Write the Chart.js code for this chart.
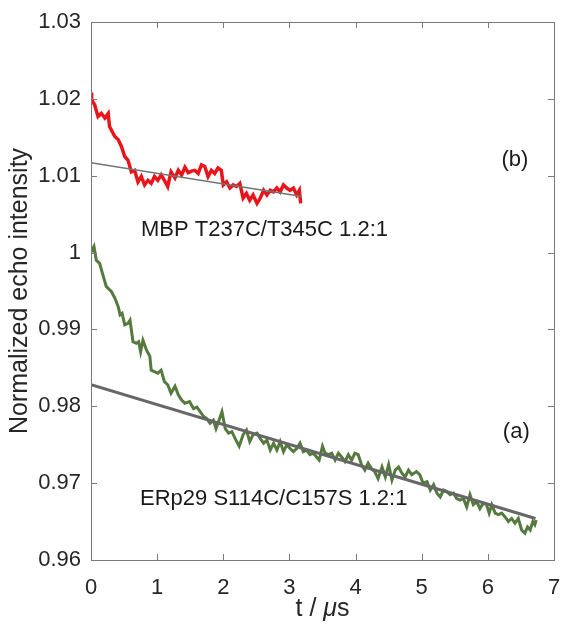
<!DOCTYPE html>
<html>
<head>
<meta charset="utf-8">
<script src="https://cdn.jsdelivr.net/npm/chart.js@4.4.1/dist/chart.umd.min.js"></script>
<style>
  html, body { margin: 0; padding: 0; background: #fff; }
  #wrap { width: 565px; height: 627px; }
</style>
</head>
<body>
<div id="wrap"><canvas id="c" width="565" height="627"></canvas></div>
<script>
// ---- data ----
const xTickLabels = ['0', '1', '2', '3', '4', '5', '6', '7'];
const yTickLabels = ['0.96', '0.97', '0.98', '0.99', '1', '1.01', '1.02', '1.03'];

// (b) MBP T237C/T345C 1.2:1 (red)
const redT = [0, 0.01, 0.056, 0.106, 0.156, 0.21, 0.26, 0.28, 0.36, 0.41,
  0.46, 0.51, 0.56, 0.61, 0.66, 0.71, 0.76, 0.81, 0.86, 0.91,
  0.96, 1.01, 1.06, 1.11, 1.16, 1.21, 1.27, 1.32, 1.37, 1.42,
  1.47, 1.52, 1.57, 1.62, 1.67, 1.72, 1.77, 1.82, 1.87, 1.92,
  1.97, 2.00, 2.05, 2.10, 2.15, 2.20, 2.25, 2.30, 2.35, 2.40,
  2.45, 2.51, 2.56, 2.61, 2.66, 2.71, 2.76, 2.81, 2.86, 2.91,
  2.96, 3.01, 3.06, 3.11, 3.15, 3.17];
const redV = [1.0208, 1.0199, 1.0192, 1.0177, 1.0181, 1.0175, 1.0181, 1.0164, 1.0151, 1.0147,
  1.0138, 1.0125, 1.0120, 1.0105, 1.0107, 1.0092, 1.0099, 1.0088, 1.0094, 1.0090,
  1.0099, 1.0094, 1.0101, 1.0094, 1.0086, 1.0105, 1.0097, 1.0107, 1.0101, 1.0111,
  1.0104, 1.0106, 1.0107, 1.0103, 1.0114, 1.0112, 1.0099, 1.0107, 1.0103, 1.0110,
  1.0107, 1.0088, 1.0092, 1.0084, 1.0088, 1.0086, 1.0090, 1.0071, 1.0077, 1.0068,
  1.0075, 1.0064, 1.0071, 1.0081, 1.0075, 1.0081, 1.0079, 1.0084, 1.0079, 1.0088,
  1.0084, 1.0081, 1.0084, 1.0075, 1.0081, 1.0064];
const redFitT = [0, 3.19];
const redFitV = [1.0117, 1.0073];

// (a) ERp29 S114C/C157S 1.2:1 (green)
const greenT = [0, 0.015, 0.045, 0.08, 0.13, 0.18, 0.23, 0.31, 0.36, 0.41,
  0.44, 0.47, 0.51, 0.56, 0.59, 0.635, 0.685, 0.72, 0.75, 0.785,
  0.84, 0.89, 0.91, 0.96, 1.01, 1.06, 1.11, 1.16, 1.21, 1.27,
  1.32, 1.37, 1.42, 1.49, 1.55, 1.60, 1.65, 1.70, 1.75, 1.80,
  1.85, 1.89, 1.92, 1.98, 2.03, 2.08, 2.13, 2.18, 2.24, 2.30,
  2.35, 2.40, 2.45, 2.51, 2.56, 2.61, 2.66, 2.71, 2.76, 2.81,
  2.86, 2.91, 2.96, 3.01, 3.06, 3.11, 3.16, 3.21, 3.26, 3.31,
  3.36, 3.41, 3.45, 3.50, 3.54, 3.59, 3.64, 3.69, 3.74, 3.79,
  3.84, 3.89, 3.94, 3.99, 4.04, 4.09, 4.14, 4.19, 4.24, 4.29,
  4.34, 4.40, 4.45, 4.50, 4.55, 4.60, 4.65, 4.70, 4.75, 4.80,
  4.85, 4.92, 4.97, 5.02, 5.08, 5.13, 5.18, 5.23, 5.28, 5.33,
  5.38, 5.43, 5.48, 5.53, 5.58, 5.63, 5.68, 5.73, 5.78, 5.83,
  5.88, 5.93, 5.98, 6.02, 6.06, 6.11, 6.16, 6.21, 6.26, 6.31,
  6.36, 6.41, 6.46, 6.51, 6.56, 6.60, 6.64, 6.68, 6.71, 6.73];
const greenV = [1.0002, 1.0003, 1.0008, 0.9990, 0.9986, 0.9971, 0.9956, 0.9949, 0.9941, 0.9930,
  0.9919, 0.9921, 0.9906, 0.9908, 0.9912, 0.9884, 0.9882, 0.9884, 0.9871, 0.9886,
  0.9873, 0.9865, 0.9847, 0.9845, 0.9843, 0.9847, 0.9832, 0.9828, 0.9817, 0.9826,
  0.9815, 0.9808, 0.9804, 0.9806, 0.9797, 0.9799, 0.9793, 0.9787, 0.9784, 0.9778,
  0.9782, 0.9771, 0.9778, 0.9793, 0.9771, 0.9765, 0.9767, 0.9758, 0.9748, 0.9763,
  0.9769, 0.9754, 0.9763, 0.9765, 0.9758, 0.9752, 0.9756, 0.9743, 0.9752, 0.9743,
  0.9754, 0.9741, 0.9750, 0.9745, 0.9741, 0.9745, 0.9752, 0.9741, 0.9743, 0.9737,
  0.9739, 0.9734, 0.9730, 0.9748, 0.9739, 0.9737, 0.9739, 0.9730, 0.9739, 0.9734,
  0.9728, 0.9737, 0.9730, 0.9739, 0.9737, 0.9724, 0.9717, 0.9726, 0.9719, 0.9715,
  0.9706, 0.9721, 0.9708, 0.9724, 0.9704, 0.9717, 0.9721, 0.9713, 0.9708, 0.9717,
  0.9711, 0.9715, 0.9711, 0.9700, 0.9702, 0.9691, 0.9698, 0.9687, 0.9682, 0.9691,
  0.9689, 0.9685, 0.9687, 0.9680, 0.9678, 0.9680, 0.9669, 0.9685, 0.9672, 0.9676,
  0.9667, 0.9674, 0.9672, 0.9661, 0.9672, 0.9661, 0.9659, 0.9661, 0.9656, 0.9650,
  0.9654, 0.9648, 0.9654, 0.9639, 0.9635, 0.9643, 0.9639, 0.9650, 0.9646, 0.9652];
const greenFitT = [0, 6.72];
const greenFitV = [0.9828, 0.9654];

// text labels (anchored in data coordinates)
const noteTexts = ['(b)', 'MBP T237C/T345C 1.2:1', '(a)', 'ERp29 S114C/C157S 1.2:1'];

// ---- styling / layout ----
const FONT = "'Liberation Sans', Arial, Helvetica, sans-serif";
const TXT = '#262626';
const noteAnchors = [
  { t: 6.41, v: 1.01205, align: 'center' },
  { t: 0.756, v: 1.00294, align: 'left' },
  { t: 6.43, v: 0.97666, align: 'center' },
  { t: 0.741, v: 0.96794, align: 'left' }
];

const pts = (xs, ys) => xs.map((x, i) => ({ x: x, y: ys[i] }));

const framePlugin = {
  id: 'frame',
  afterDraw(chart) {
    const { ctx, chartArea: a, scales: { x, y } } = chart;
    ctx.save();
    ctx.strokeStyle = '#7a7a7a';
    ctx.lineWidth = 1;
    ctx.strokeRect(Math.round(a.left) + 0.5, Math.round(a.top) + 0.5,
      Math.round(a.right - a.left), Math.round(a.bottom - a.top));
    ctx.beginPath();
    const L = 6;
    x.ticks.forEach(t => {
      const px = Math.round(x.getPixelForValue(t.value)) + 0.5;
      ctx.moveTo(px, a.bottom); ctx.lineTo(px, a.bottom - L);
      ctx.moveTo(px, a.top); ctx.lineTo(px, a.top + L);
    });
    y.ticks.forEach(t => {
      const py = Math.round(y.getPixelForValue(t.value)) + 0.5;
      ctx.moveTo(a.left, py); ctx.lineTo(a.left + L, py);
      ctx.moveTo(a.right, py); ctx.lineTo(a.right - L, py);
    });
    ctx.stroke();

    // annotations
    ctx.fillStyle = '#1a1a1a';
    ctx.font = '22px ' + FONT;
    ctx.textBaseline = 'middle';
    noteTexts.forEach((txt, i) => {
      const an = noteAnchors[i];
      ctx.textAlign = an.align;
      ctx.fillText(txt, x.getPixelForValue(an.t), y.getPixelForValue(an.v));
    });

    // x-axis title: "t / μs" with italic μ
    const parts = [['t / ', 'normal'], ['μ', 'italic'], ['s', 'normal']];
    let total = 0;
    parts.forEach(p => { ctx.font = p[1] + ' 25px ' + FONT; total += ctx.measureText(p[0]).width; });
    let cx = (a.left + a.right) / 2 - total / 2;
    const ty = chart.height - 18;
    ctx.textAlign = 'left';
    ctx.fillStyle = TXT;
    parts.forEach(p => {
      ctx.font = p[1] + ' 25px ' + FONT;
      ctx.fillText(p[0], cx, ty);
      cx += ctx.measureText(p[0]).width;
    });
    ctx.restore();
  }
};

new Chart(document.getElementById('c'), {
  type: 'scatter',
  data: {
    datasets: [
      { label: 'MBP fit', data: pts(redFitT, redFitV), showLine: true, borderColor: '#747474', borderWidth: 1.5, pointRadius: 0, order: 1 },
      { label: 'ERp29 fit', data: pts(greenFitT, greenFitV), showLine: true, borderColor: '#676767', borderWidth: 3, pointRadius: 0, order: 2 },
      { label: 'MBP T237C/T345C 1.2:1', data: pts(redT, redV), showLine: true, borderColor: '#e8161c', borderWidth: 3.5, pointRadius: 0, tension: 0, order: 3 },
      { label: 'ERp29 S114C/C157S 1.2:1', data: pts(greenT, greenV), showLine: true, borderColor: '#547a3e', borderWidth: 3, pointRadius: 0, tension: 0, order: 4 }
    ]
  },
  options: {
    responsive: false,
    animation: false,
    layout: { padding: { top: 22, right: 11, left: 0, bottom: 0 } },
    plugins: { legend: { display: false }, tooltip: { enabled: false } },
    scales: {
      x: {
        type: 'linear', min: 0, max: 7,
        grid: { display: false, drawTicks: false },
        border: { display: false },
        ticks: {
          stepSize: 1, padding: 15, color: TXT,
          font: { family: FONT, size: 22 },
          callback: (v, i) => xTickLabels[i]
        },
        afterFit: s => { s.height = 67; s.paddingLeft = 0; s.paddingRight = 0; }
      },
      y: {
        type: 'linear', min: 0.96, max: 1.03,
        grid: { display: false, drawTicks: false },
        border: { display: false },
        ticks: {
          stepSize: 0.01, padding: 10, color: TXT,
          font: { family: FONT, size: 22 },
          callback: (v, i) => yTickLabels[i]
        },
        title: {
          display: true, text: 'Normalized echo intensity', color: TXT,
          font: { family: FONT, size: 25 }, padding: { top: 5, bottom: 0 }
        },
        afterFit: s => { s.width = 91; s.paddingTop = 0; s.paddingBottom = 0; }
      }
    }
  },
  plugins: [framePlugin]
});
</script>
</body>
</html>
